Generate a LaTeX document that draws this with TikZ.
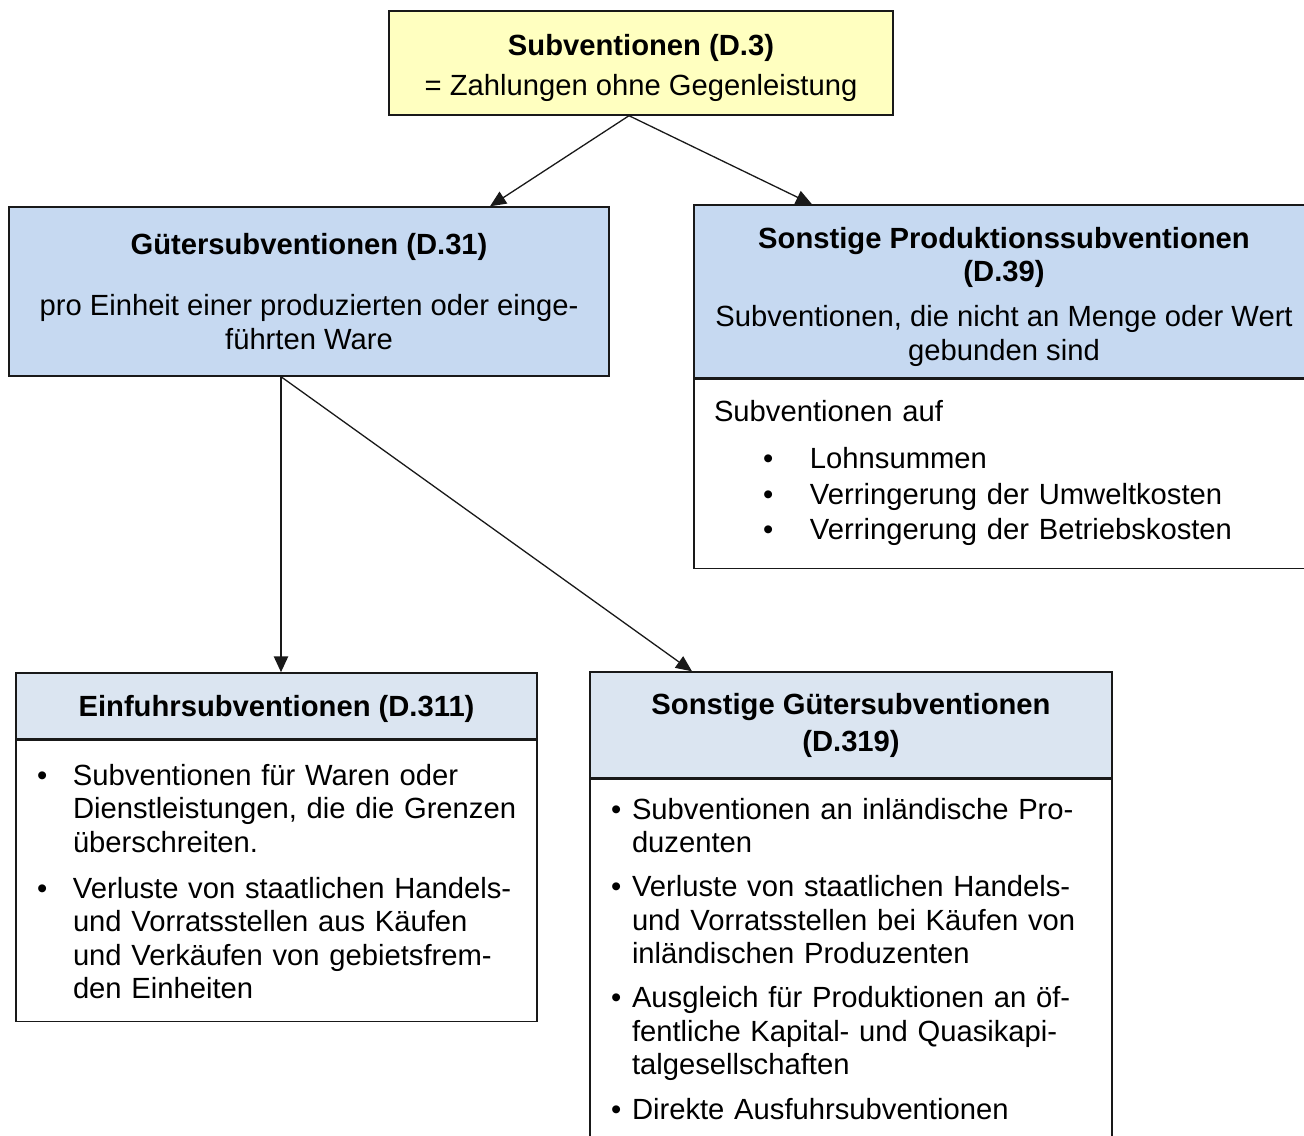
\documentclass[tikz,border=0pt]{standalone}
\usepackage{fontspec}
\setmainfont{Liberation Sans}
\usetikzlibrary{arrows.meta, calc, positioning}
\definecolor{topYellow}{HTML}{FFFFC0}
\definecolor{mainBlue}{HTML}{C6D9F1}
\definecolor{lightBlue}{HTML}{DBE5F1}
\definecolor{lineBlack}{gray}{0.1}
\newcommand{\lift}[1]{\rule{0pt}{#1}}

\tikzset{
  box/.style={draw=lineBlack, line width=0.7pt, inner sep=0pt, align=center,
    font=\fontsize{14.6}{16.75}\selectfont},
  listbox/.style={box, fill=white, align=left, anchor=north},
  arr/.style={-{Triangle[length=8pt,width=7pt]}, line width=0.65pt, lineBlack},
}

\begin{document}
\begin{tikzpicture}[x=0.5pt, y=-0.5pt]
    \useasboundingbox (0,0) rectangle (1304,1135);

    % Oberbegriff
    \node[box, fill=topYellow, minimum width=252pt, minimum height=52pt] (subv) at (641,63)
        {\lift{15.8pt}\textbf{Subventionen (D.3)}\\[3.25pt] = Zahlungen ohne Gegenleistung};

    % zweite Ebene
    \node[box, fill=mainBlue, minimum width=300pt, minimum height=84.5pt] (gut) at (309,291.5)
        {\textbf{Gütersubventionen (D.31)}\\[14pt]
         pro Einheit einer produzierten oder einge-\\führten Ware};
    \node[box, fill=mainBlue, minimum width=310pt, minimum height=86.5pt] (prod) at (1004,291.5)
        {\lift{15.8pt}\textbf{Sonstige Produktionssubventionen}\\\textbf{(D.39)}\\[5.75pt]
         Subventionen, die nicht an Menge oder Wert\\gebunden sind};
    \node[listbox, minimum width=310pt, minimum height=94.5pt, text width=290pt] (prodlist) at (prod.south) {%
        \begin{tabular}{@{}p{24.5pt}@{}p{23.5pt}@{}l@{}}
        \multicolumn{3}{@{}l@{}}{Subventionen auf}\\[6.75pt]
        & \textbullet & Lohnsummen\\[1pt]
        & \textbullet & Verringerung der Umweltkosten\\[0.75pt]
        & \textbullet & Verringerung der Betriebskosten
        \end{tabular}};

    % dritte Ebene
    \node[box, fill=lightBlue, minimum width=260.5pt, minimum height=33pt] (einf) at (276.5,706)
        {\lift{13.8pt}\textbf{Einfuhrsubventionen (D.311)}};
    \node[listbox, minimum width=260.5pt, minimum height=140.5pt, text width=239.5pt] (einflist) at (einf.south) {%
        \begin{tabular}{@{}p{18pt}@{}l@{}}
        \lift{16.2pt}\textbullet & Subventionen für Waren oder\\
                    & Dienstleistungen, die die Grenzen\\
                    & überschreiten.\\[6.25pt]
        \textbullet & Verluste von staatlichen Handels-\\
                    & und Vorratsstellen aus Käufen\\
                    & und Verkäufen von gebietsfrem-\\
                    & den Einheiten
        \end{tabular}};

    \node[box, fill=lightBlue, minimum width=261pt, minimum height=53pt] (sgut) at (851,725)
        {\textbf{Sonstige Gütersubventionen}\\[1.75pt]\textbf{(D.319)}};
    \node[listbox, minimum width=261pt, minimum height=181pt, text width=240pt] (sgutlist) at (sgut.south) {%
        \begin{tabular}{@{}p{10.5pt}@{}l@{}}
        \lift{13.7pt}\textbullet & Subventionen an inländische Pro-\\
                    & duzenten\\[5.25pt]
        \textbullet & Verluste von staatlichen Handels-\\
                    & und Vorratsstellen bei Käufen von\\
                    & inländischen Produzenten\\[5.25pt]
        \textbullet & Ausgleich für Produktionen an öf-\\
                    & fentliche Kapital- und Quasikapi-\\
                    & talgesellschaften\\[5.5pt]
        \textbullet & Direkte Ausfuhrsubventionen
        \end{tabular}};

    % Pfeile
    \draw[arr] ($(subv.south)+(-12,0)$) -- ($(gut.north)+(181,0)$);
    \draw[arr] ($(subv.south)+(-12,0)$) -- ($(prod.north)+(-192,0)$);
    \draw[arr, line width=1.3pt] ($(gut.south)+(-28,0)$) -- ($(einf.north)+(4.5,0)$);
    \draw[arr] ($(gut.south)+(-28,0)$) -- ($(sgut.north)+(-159,0)$);
\end{tikzpicture}
\end{document}
